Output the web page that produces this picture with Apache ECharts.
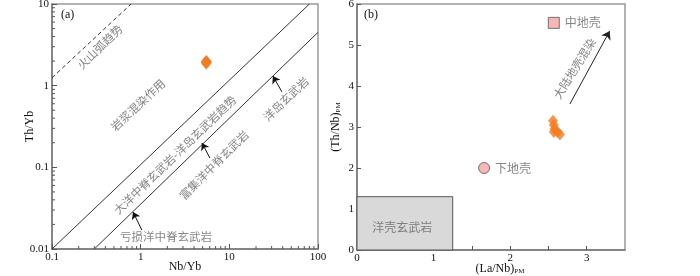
<!DOCTYPE html>
<html>
<head>
<meta charset="utf-8">
<script src="https://cdn.jsdelivr.net/npm/echarts@6/dist/echarts.min.js"></script>
<style>
  html, body { margin: 0; background: #fff; }
  #chart { width: 700px; height: 276px; }
</style>
</head>
<body>
<div id="chart"></div>
<script>
// panel (a): Th/Yb vs Nb/Yb
const samplesA = [[5.4, 1.92], [5.5, 2.0], [5.6, 1.95], [5.5, 1.86], [5.45, 1.97]];
const volcanicArc = [[0.1, 1.25], [0.78, 10]];
const arrayUpper = [[0.1, 0.01], [80, 10]];
const arrayLower = [[0.3, 0.01], [100, 4.5]];
const arrowsA = [
  [[39.2, 0.84], [31, 1.31]],
  [[1.03, 0.0171], [0.82, 0.0284]],
  [[6.04, 0.13], [4.91, 0.199]]
];
const labelsA = [
  { name: '火山弧趋势', value: [0.347, 2.98], rotate: 44 },
  { name: '岩浆混染作用', value: [0.93, 0.58], rotate: 43 },
  { name: '大洋中脊玄武岩-洋岛玄武岩趋势', value: [2.44, 0.142], rotate: 44 },
  { name: '富集洋中脊玄武岩', value: [6.7, 0.107], rotate: 45 },
  { name: '洋岛玄武岩', value: [43.5, 0.687], rotate: 44 },
  { name: '亏损洋中脊玄武岩', value: [1.93, 0.0141], rotate: 0 }
];
const minorX = [0.2, 0.3, 0.4, 0.5, 0.6, 0.7, 0.8, 0.9, 2, 3, 4, 5, 6, 7, 8, 9, 20, 30, 40, 50, 60, 70, 80, 90];
const minorY = [0.02, 0.03, 0.04, 0.05, 0.06, 0.07, 0.08, 0.09, 0.2, 0.3, 0.4, 0.5, 0.6, 0.7, 0.8, 0.9, 2, 3, 4, 5, 6, 7, 8, 9];

// panel (b): (Th/Nb)PM vs (La/Nb)PM
const samplesB = [[2.56, 3.15], [2.57, 3.05], [2.58, 2.95], [2.57, 2.88], [2.62, 2.88], [2.65, 2.82]];
const lowerCrust = [[1.66, 2.0]];
const middleCrust = [[2.57, 5.54]];
const oceanicBox = [[0, 0], [1.25, 1.3]];
const oceanicLabel = [{ name: '洋壳玄武岩', value: [0.59, 0.56], rotate: 0 }];
const crustArrow = [[2.78, 3.56], [3.3, 5.34]];
const crustLabel = [{ name: '大陆地壳混染', value: [2.84, 4.43], rotate: 58 }];

const serif = 'Liberation Serif';
const cjk = 'Noto Sans CJK SC';
const orange = '#f47c20';
const pink = '#f6a5a5';

const chart = echarts.init(document.getElementById('chart'));

function fmtLog(v) {
  return String(+Number(v).toPrecision(3));
}

function minorTicks(idx, pairs, dir) {
  return {
    type: 'custom',
    xAxisIndex: idx,
    yAxisIndex: idx,
    silent: true,
    clip: false,
    z: 5,
    data: pairs,
    renderItem(params, api) {
      const p = api.coord([api.value(0), api.value(1)]);
      const end = dir === 'x' ? [p[0], p[1] - 3] : [p[0] + 3, p[1]];
      return {
        type: 'line',
        shape: { x1: p[0], y1: p[1], x2: end[0], y2: end[1] },
        style: { stroke: '#555', lineWidth: 1 }
      };
    }
  };
}

// text annotations placed at data coordinates
function textSeries(idx, items, size) {
  return {
    type: 'scatter', xAxisIndex: idx, yAxisIndex: idx, symbolSize: 0, silent: true, z: 6,
    data: items.map(d => ({ name: d.name, value: d.value, label: { rotate: d.rotate } })),
    label: {
      show: true, position: [0, 0], align: 'center', verticalAlign: 'middle',
      formatter: '{b}', fontFamily: cjk, fontSize: size, color: '#666'
    }
  };
}

const rich = { sub: { fontSize: 7, fontFamily: serif, verticalAlign: 'bottom', padding: [6, 0, 0, 0] } };

const option = {
  animation: false,
  grid: [
    { left: 52, top: 4, width: 266, height: 245, show: true, borderColor: '#999', borderWidth: 1.5, containLabel: false, outerBoundsMode: 'none' },
    { left: 357, top: 4, width: 268, height: 246, show: true, borderColor: '#999', borderWidth: 1.5, containLabel: false, outerBoundsMode: 'none' }
  ],
  xAxis: [
    {
      gridIndex: 0, type: 'log', logBase: 10, min: 0.1, max: 100,
      name: 'Nb/Yb', nameLocation: 'middle', nameGap: 12, nameMoveOverlap: false,
      nameTextStyle: { fontFamily: serif, fontSize: 12, color: '#111' },
      axisLine: { lineStyle: { color: '#777', width: 1.5 } },
      axisTick: { inside: true, length: 5, lineStyle: { color: '#555' } },
      axisLabel: { fontFamily: serif, fontSize: 11, color: '#111', margin: 3, formatter: fmtLog },
      splitLine: { show: false }
    },
    {
      gridIndex: 1, type: 'value', min: 0, max: 3.5, interval: 0.5,
      name: '(La/Nb){sub|PM}', nameLocation: 'middle', nameGap: 12, nameMoveOverlap: false,
      nameTextStyle: { fontFamily: serif, fontSize: 12, color: '#111', rich: rich, padding: [0, 0, 0, 18] },
      axisLine: { lineStyle: { color: '#777', width: 1.5 } },
      axisTick: { inside: true, length: 4, lineStyle: { color: '#555' } },
      axisLabel: {
        fontFamily: serif, fontSize: 11, color: '#111', margin: 3, showMaxLabel: false,
        formatter: v => (Number.isInteger(v) ? String(v) : '')
      },
      splitLine: { show: false }
    }
  ],
  yAxis: [
    {
      gridIndex: 0, type: 'log', logBase: 10, min: 0.01, max: 10,
      name: 'Th/Yb', nameLocation: 'middle', nameGap: 16, nameRotate: 90, nameMoveOverlap: false,
      nameTextStyle: { fontFamily: serif, fontSize: 12, color: '#111' },
      axisLine: { lineStyle: { color: '#777', width: 1.5 } },
      axisTick: { inside: true, length: 5, lineStyle: { color: '#555' } },
      axisLabel: { fontFamily: serif, fontSize: 11, color: '#111', margin: 3, formatter: fmtLog },
      splitLine: { show: false }
    },
    {
      gridIndex: 1, type: 'value', min: 0, max: 6, interval: 1,
      name: '(Th/Nb){sub|PM}', nameLocation: 'middle', nameGap: 15, nameRotate: 90, nameMoveOverlap: false,
      nameTextStyle: { fontFamily: serif, fontSize: 12, color: '#111', rich: rich },
      axisLine: { lineStyle: { color: '#777', width: 1.5 } },
      axisTick: { inside: true, length: 4, lineStyle: { color: '#555' } },
      axisLabel: { fontFamily: serif, fontSize: 11, color: '#111', margin: 3 },
      splitLine: { show: false }
    }
  ],
  graphic: [
    { type: 'text', left: 61, top: 9, style: { text: '(a)', font: '12px "Liberation Serif"', fill: '#111' } },
    { type: 'text', left: 364, top: 9, style: { text: '(b)', font: '12px "Liberation Serif"', fill: '#111' } }
  ],
  series: [
    {
      type: 'line', xAxisIndex: 0, yAxisIndex: 0, data: volcanicArc, symbol: 'none', silent: true,
      lineStyle: { color: '#333', width: 1, type: [4, 3] }
    },
    {
      type: 'line', xAxisIndex: 0, yAxisIndex: 0, data: arrayUpper, symbol: 'none', silent: true,
      lineStyle: { color: '#333', width: 1 }
    },
    {
      type: 'line', xAxisIndex: 0, yAxisIndex: 0, data: arrayLower, symbol: 'none', silent: true,
      lineStyle: { color: '#333', width: 1 },
      markLine: {
        silent: true, symbol: ['none', 'arrow'], symbolSize: 7, animation: false,
        lineStyle: { color: '#111', width: 1, type: 'solid' }, label: { show: false },
        data: arrowsA.map(a => [{ coord: a[0] }, { coord: a[1] }])
      }
    },
    minorTicks(0, minorX.map(v => [v, 0.01]), 'x'),
    minorTicks(0, minorY.map(v => [0.1, v]), 'y'),
    textSeries(0, labelsA, 11.5),
    {
      type: 'scatter', xAxisIndex: 0, yAxisIndex: 0, data: samplesA,
      symbol: 'diamond', symbolSize: [10, 12], itemStyle: { color: orange }, z: 4
    },
    {
      type: 'scatter', xAxisIndex: 1, yAxisIndex: 1, data: lowerCrust, symbol: 'circle', symbolSize: 11,
      itemStyle: { color: pink, borderColor: '#555', borderWidth: 1 },
      label: { show: true, position: 'right', distance: 5, formatter: '下地壳', fontFamily: cjk, fontSize: 12, color: '#666' },
      markArea: {
        silent: true,
        itemStyle: { color: '#d9d9d9', borderColor: '#555', borderWidth: 1 },
        label: { show: false },
        data: [[{ coord: oceanicBox[0] }, { coord: oceanicBox[1] }]]
      },
      markLine: {
        silent: true, symbol: ['none', 'arrow'], symbolSize: 8, animation: false,
        lineStyle: { color: '#222', width: 1, type: 'solid' }, label: { show: false },
        data: [[{ coord: crustArrow[0] }, { coord: crustArrow[1] }]]
      }
    },
    textSeries(1, oceanicLabel, 12),
    textSeries(1, crustLabel, 11.5),
    {
      type: 'scatter', xAxisIndex: 1, yAxisIndex: 1, data: middleCrust, symbol: 'rect', symbolSize: 11,
      itemStyle: { color: pink, borderColor: '#555', borderWidth: 1 },
      label: { show: true, position: 'right', distance: 5, formatter: '中地壳', fontFamily: cjk, fontSize: 12, color: '#666' }
    },
    {
      type: 'scatter', xAxisIndex: 1, yAxisIndex: 1, data: samplesB,
      symbol: 'diamond', symbolSize: [10, 12], itemStyle: { color: orange }, z: 4
    }
  ]
};

chart.setOption(option);
</script>
</body>
</html>
